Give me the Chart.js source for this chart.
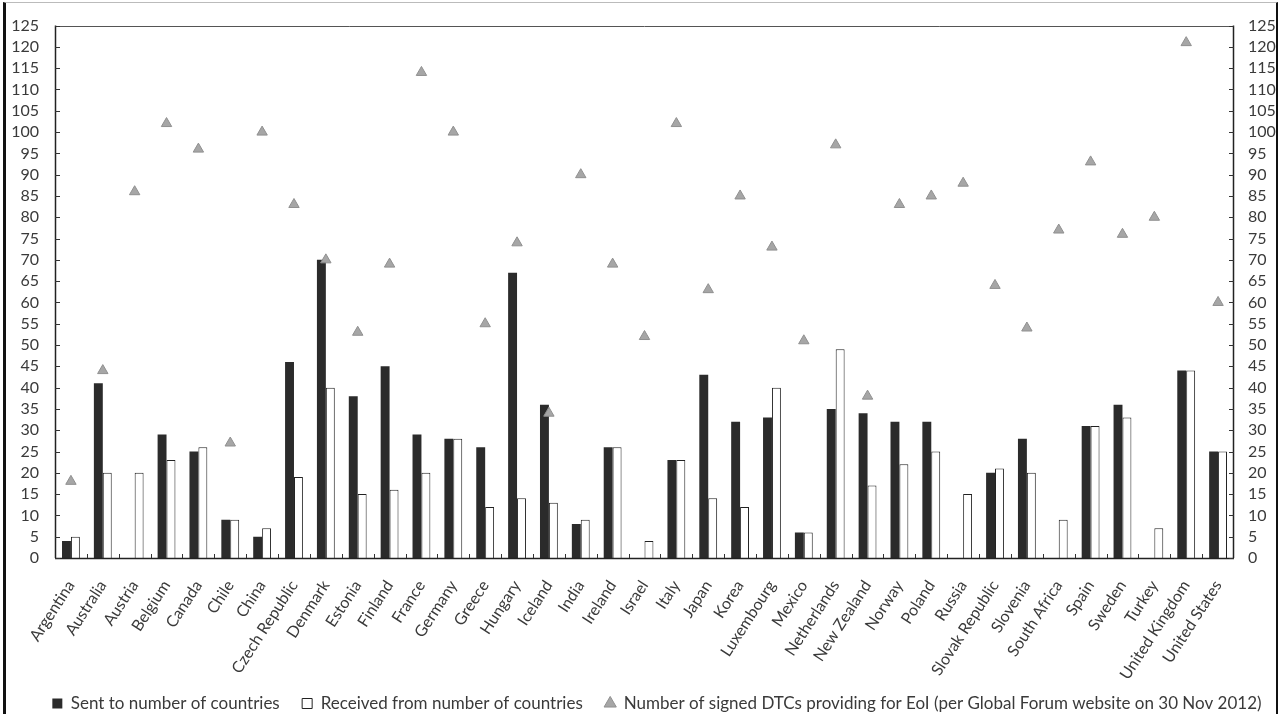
<!DOCTYPE html>
<html><head><meta charset="utf-8">
<script src="https://cdn.jsdelivr.net/npm/chart.js@4.4.1/dist/chart.umd.min.js"></script>
<style>
html,body{margin:0;padding:0;background:#fff;}
#wrap{position:relative;width:1284px;height:714px;overflow:hidden;}
#frame{position:absolute;left:3px;top:2px;width:1270px;height:720px;border-left:3px solid #111;border-right:2px solid #111;border-top:1px solid #bbb;pointer-events:none;}
</style></head><body>
<div id="wrap"><canvas id="c" width="1284" height="714"></canvas><div id="frame"></div></div>
<script>
const countries = ["Argentina","Australia","Austria","Belgium","Canada","Chile","China","Czech Republic","Denmark","Estonia","Finland","France","Germany","Greece","Hungary","Iceland","India","Ireland","Israel","Italy","Japan","Korea","Luxembourg","Mexico","Netherlands","New Zealand","Norway","Poland","Russia","Slovak Republic","Slovenia","South Africa","Spain","Sweden","Turkey","United Kingdom","United States"];
const sentTo       = [4,41,0,29,25,9,5,46,70,38,45,29,28,26,67,36,8,26,0,23,43,32,33,6,35,34,32,32,0,20,28,0,31,36,0,44,25];
const receivedFrom = [5,20,20,23,26,9,7,19,40,15,16,20,28,12,14,13,9,26,4,23,14,12,40,6,49,17,22,25,15,21,20,9,31,33,7,44,25];
const signedDTCs   = [18,44,86,102,96,27,100,83,70,53,69,114,100,55,74,34,90,69,52,102,63,85,73,51,97,38,83,85,88,64,54,77,93,76,80,121,60];
const seriesNames  = ["Sent to number of countries","Received from number of countries","Number of signed DTCs providing for EoI (per Global Forum website on 30 Nov 2012)"];
const yMin = 0, yMax = 125, yStep = 5;

const FONT = "Lato, 'Open Sans', sans-serif";
const TXT = "#3a3a3a";

const axisMarks = {
  id: 'axisMarks',
  afterDraw(chart) {
    const {ctx, chartArea: a, scales} = chart;
    ctx.save();
    ctx.lineWidth = 1;
    ctx.strokeStyle = '#555';
    ctx.beginPath(); ctx.moveTo(a.left, Math.round(a.top) + 0.5); ctx.lineTo(a.right, Math.round(a.top) + 0.5); ctx.stroke();
    ctx.strokeStyle = '#222';
    ctx.lineWidth = 1.5;
    ctx.beginPath();
    ctx.moveTo(a.left + 0.5, a.top); ctx.lineTo(a.left + 0.5, a.bottom);
    ctx.moveTo(a.left, a.bottom + 0.5); ctx.lineTo(a.right, a.bottom + 0.5);
    ctx.moveTo(a.right - 0.5, a.top); ctx.lineTo(a.right - 0.5, a.bottom);
    ctx.stroke();
    ctx.lineWidth = 1;
    ctx.strokeStyle = '#333';
    ctx.beginPath();
    for (let v = yMin; v <= yMax; v += yStep) {
      const y = Math.round(scales.y.getPixelForValue(v)) + 0.5;
      ctx.moveTo(a.left, y); ctx.lineTo(a.left + 5, y);
      ctx.moveTo(a.right - 5, y); ctx.lineTo(a.right, y);
    }
    const n = countries.length;
    for (let i = 1; i < n; i++) {
      const x = Math.round((scales.x.getPixelForValue(i - 1) + scales.x.getPixelForValue(i)) / 2) + 0.5;
      ctx.moveTo(x, a.bottom); ctx.lineTo(x, a.bottom - 4);
    }
    ctx.stroke();
    ctx.restore();
  }
};

new Chart(document.getElementById('c'), {
  type: 'bar',
  data: {
    labels: countries,
    datasets: [
      { label: seriesNames[0], data: sentTo, backgroundColor: '#2b2b2b', borderColor: '#2b2b2b', borderWidth: 0, pointStyle: 'rect', yAxisID: 'y', order: 2 },
      { label: seriesNames[1], data: receivedFrom, backgroundColor: '#ffffff', borderColor: '#222', borderWidth: 1, pointStyle: 'rect', yAxisID: 'y', order: 2 },
      { type: 'line', label: seriesNames[2], data: signedDTCs, showLine: false, pointStyle: 'triangle', pointRadius: 6, pointHoverRadius: 6, backgroundColor: '#a6a6a6', borderColor: '#909090', borderWidth: 1, yAxisID: 'y', order: 1 }
    ]
  },
  options: {
    responsive: false,
    animation: false,
    events: [],
    layout: { padding: { top: 12, left: 0, right: 0, bottom: -8 } },
    datasets: { bar: { categoryPercentage: 0.56, barPercentage: 1.0 } },
    plugins: {
      tooltip: { enabled: false },
      legend: {
        position: 'bottom',
        align: 'end',
        labels: {
          usePointStyle: true, boxWidth: 10, boxHeight: 10, padding: 5, color: TXT, font: { family: FONT, size: 17 },
          sort: (a, b) => a.datasetIndex - b.datasetIndex,
          generateLabels(chart) {
            const items = Chart.defaults.plugins.legend.labels.generateLabels(chart);
            items.forEach(it => { it.text = it.text + '    '; });
            return items;
          }
        }
      }
    },
    scales: {
      x: {
        offset: true,
        grid: { display: false },
        border: { display: false },
        ticks: { autoSkip: false, maxRotation: 57, minRotation: 57, padding: 11, color: TXT, font: { family: FONT, size: 16 } },
        afterFit(s) { s.height = 132; }
      },
      y: {
        position: 'left', min: yMin, max: yMax,
        grid: { display: false, drawTicks: false },
        border: { display: false },
        ticks: { stepSize: yStep, autoSkip: false, padding: 16, color: TXT, font: { family: FONT, size: 16 } },
        afterFit(s) { s.width = 55; }
      },
      y2: {
        position: 'right', min: yMin, max: yMax,
        grid: { display: false, drawTicks: false },
        border: { display: false },
        ticks: { stepSize: yStep, autoSkip: false, padding: 14, color: TXT, font: { family: FONT, size: 16 } },
        afterFit(s) { s.width = 50; }
      }
    }
  },
  plugins: [axisMarks]
});
</script>
</body></html>
